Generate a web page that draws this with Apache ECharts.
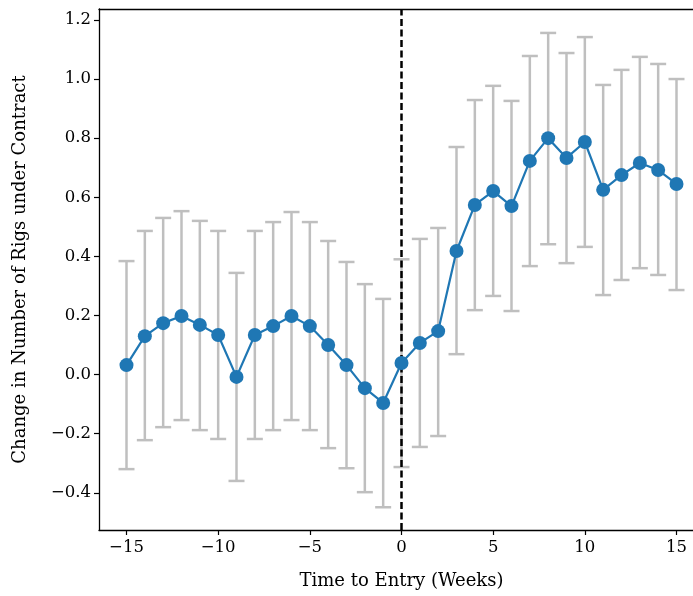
<!DOCTYPE html>
<html><head><meta charset="utf-8">
<script src="https://cdn.jsdelivr.net/npm/echarts@6/dist/echarts.min.js"></script>
<style>html,body{margin:0;padding:0;background:#fff;overflow:hidden}#c{width:693px;height:596px}</style>
</head><body><div id="c"></div>
<script>
var weeks = [-15,-14,-13,-12,-11,-10,-9,-8,-7,-6,-5,-4,-3,-2,-1,0,1,2,3,4,5,6,7,8,9,10,11,12,13,14,15];
var estimate = [0.032,0.130,0.174,0.198,0.168,0.134,-0.008,0.134,0.164,0.198,0.164,0.100,0.032,-0.046,-0.096,0.039,0.107,0.147,0.418,0.574,0.621,0.570,0.723,0.800,0.733,0.787,0.625,0.675,0.716,0.692,0.645];
var upper = [0.384,0.486,0.530,0.553,0.520,0.486,0.344,0.486,0.516,0.550,0.516,0.452,0.381,0.306,0.256,0.390,0.459,0.496,0.770,0.929,0.977,0.926,1.078,1.156,1.088,1.142,0.980,1.031,1.075,1.051,1.000];
var lower = [-0.320,-0.222,-0.178,-0.154,-0.188,-0.218,-0.360,-0.218,-0.188,-0.154,-0.188,-0.249,-0.317,-0.398,-0.449,-0.313,-0.245,-0.208,0.069,0.218,0.266,0.215,0.367,0.441,0.377,0.432,0.269,0.320,0.360,0.337,0.286];
var entryWeek = [0];
var xTicks = [-15,-10,-5,0,5,10,15];
var yTicks = [-0.4,-0.2,0,0.2,0.4,0.6,0.8,1.0,1.2];
var xTitle = 'Time to Entry (Weeks)';
var yTitle = 'Change in Number of Rigs under Contract';

var FONT = 'DejaVu Serif';
var YMIN = -0.526, YMAX = 1.237;
function fmt(v){
  var s = (Math.abs(v) < 1e-9) ? '0.0' : Math.abs(v).toFixed(1);
  return (v < -1e-9 ? '\u2212' : '') + s;
}
function fmtX(v){ return (v < 0 ? '\u2212' : '') + Math.abs(v); }

var errData = weeks.map(function(w,i){ return [w, lower[i], upper[i]]; });
var lineData = weeks.map(function(w,i){ return [w, estimate[i]]; });
var vData = entryWeek.map(function(w){ return [w, YMIN, YMAX]; });

var chart = echarts.init(document.getElementById('c'), null, {renderer:'canvas'});
chart.setOption({
  animation:false,
  backgroundColor:'#fff',
  grid:{left:99, top:9, width:605, height:521, show:false, containLabel:false, outerBoundsMode:'none'},
  xAxis:[{
    type:'value', min:-16.5, max:16.5, position:'bottom',
    name:xTitle, nameLocation:'middle', nameGap:42,
    nameTextStyle:{fontFamily:FONT, fontSize:18, color:'#000'},
    axisLine:{show:true, onZero:false, lineStyle:{color:'#000', width:1.3}},
    axisTick:{show:true, inside:false, length:5, lineStyle:{color:'#000', width:1.2}, customValues:xTicks},
    axisLabel:{fontFamily:FONT, fontSize:16.5, color:'#000', margin:9, customValues:xTicks, formatter:fmtX},
    splitLine:{show:false}
  },{
    type:'value', min:-16.5, max:16.5, position:'top',
    axisLine:{show:true, onZero:false, lineStyle:{color:'#000', width:1.3}},
    axisTick:{show:false}, axisLabel:{show:false}, splitLine:{show:false}
  }],
  yAxis:{
    type:'value', min:YMIN, max:YMAX,
    name:yTitle, nameLocation:'middle', nameGap:70,
    nameTextStyle:{fontFamily:FONT, fontSize:18, color:'#000'},
    axisLine:{show:true, onZero:false, lineStyle:{color:'#000', width:1.3}},
    axisTick:{show:true, inside:false, length:5, lineStyle:{color:'#000', width:1.2}, customValues:yTicks},
    axisLabel:{fontFamily:FONT, fontSize:16.5, color:'#000', margin:8, customValues:yTicks, formatter:fmt},
    splitLine:{show:false}
  },
  series:[
    {
      type:'custom', z:1,
      data:errData,
      encode:{x:0, y:[1,2]},
      renderItem:function(params, api){
        var x = api.value(0);
        var lo = api.coord([x, api.value(1)]);
        var hi = api.coord([x, api.value(2)]);
        var hw = 8;
        var st = {stroke:'#bfbfbf', lineWidth:2.5};
        return {type:'group', children:[
          {type:'line', shape:{x1:lo[0], y1:lo[1], x2:hi[0], y2:hi[1]}, style:st},
          {type:'line', shape:{x1:lo[0]-hw, y1:lo[1], x2:lo[0]+hw, y2:lo[1]}, style:st},
          {type:'line', shape:{x1:hi[0]-hw, y1:hi[1], x2:hi[0]+hw, y2:hi[1]}, style:st}
        ]};
      }
    },
    {
      type:'custom', z:2,
      data:vData,
      encode:{x:0, y:[1,2]},
      renderItem:function(params, api){
        var x = api.value(0);
        var lo = api.coord([x, api.value(1)]);
        var hi = api.coord([x, api.value(2)]);
        return {type:'line', shape:{x1:lo[0], y1:lo[1], x2:hi[0], y2:hi[1]},
          style:{stroke:'#000', lineWidth:2.5, lineDash:[7,3.5]}};
      }
    },
    {
      type:'line', z:3,
      data:lineData,
      symbol:'circle', symbolSize:14,
      itemStyle:{color:'#1f77b4'},
      lineStyle:{color:'#1f77b4', width:2.2}
    }
  ]
});
</script></body></html>
